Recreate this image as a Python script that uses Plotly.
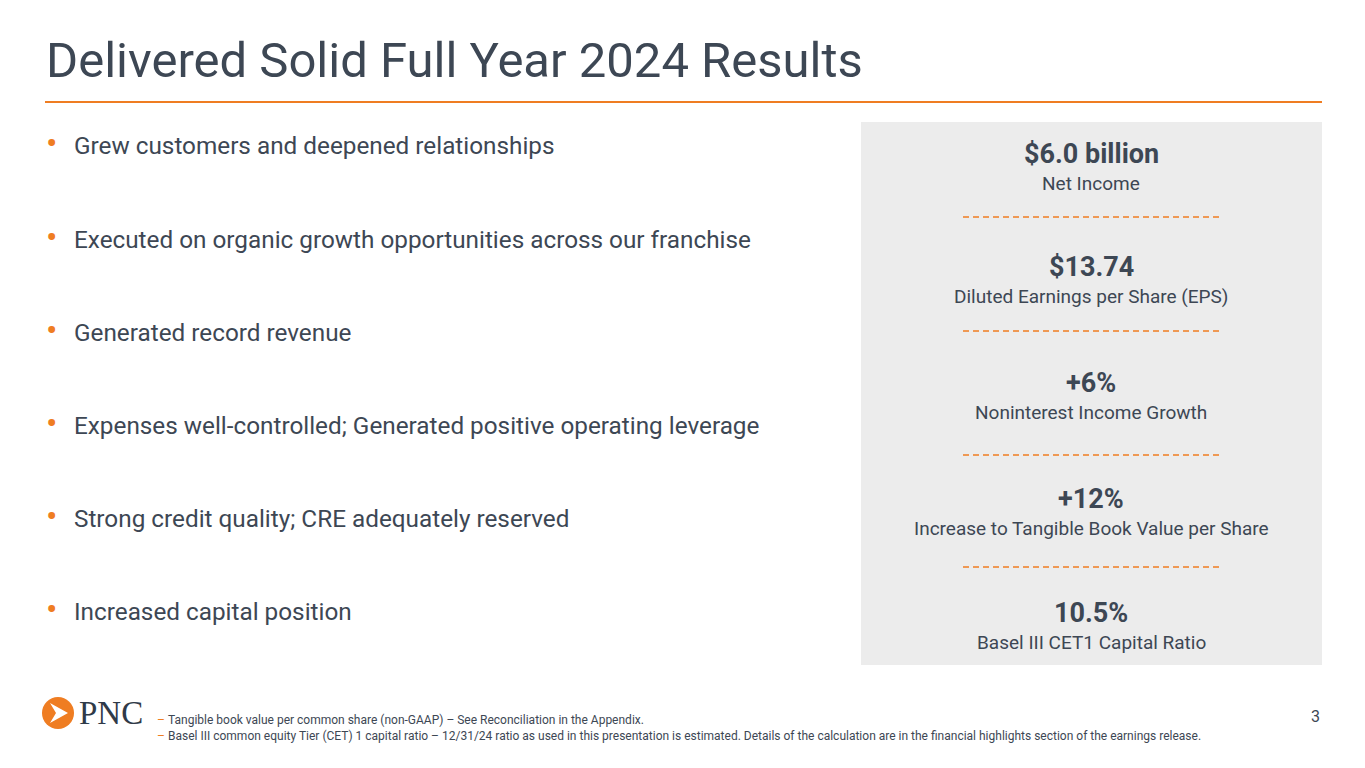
import plotly.graph_objects as go

title = "Delivered Solid Full Year 2024 Results"
bullets = ["Grew customers and deepened relationships",
           "Executed on organic growth opportunities across our franchise",
           "Generated record revenue",
           "Expenses well-controlled; Generated positive operating leverage",
           "Strong credit quality; CRE adequately reserved",
           "Increased capital position"]
bullet_y = [145, 239, 332, 425, 518, 611]
metric_values = ["$6.0 billion", "$13.74", "+6%", "+12%", "10.5%"]
metric_labels = ["Net Income", "Diluted Earnings per Share (EPS)", "Noninterest Income Growth",
                 "Increase to Tangible Book Value per Share", "Basel III CET1 Capital Ratio"]
metric_y = [154, 267, 383, 499, 613]
divider_y = [217, 331, 455, 567]
footnotes = ["Tangible book value per common share (non-GAAP) – See Reconciliation in the Appendix.",
             "Basel III common equity Tier (CET) 1 capital ratio – 12/31/24 ratio as used in this presentation is estimated. Details of the calculation are in the financial highlights section of the earnings release."]

ORANGE = "#ef7d22"
TXT = "#3d4754"
FONT = "Roboto"

fig = go.Figure()
fig.add_trace(go.Scatter(x=[0, 1365], y=[0, 768], mode="markers", marker=dict(opacity=0), hoverinfo="skip"))
ann = []
shapes = []
def A(**k):
    k.setdefault("showarrow", False)
    ann.append(k)
A(x=44, y=60, text=title, xanchor="left", yanchor="middle",
  font=dict(family=FONT, size=49, color=TXT))
shapes.append(dict(type="line", x0=45, x1=1322, y0=102, y1=102, line=dict(color=ORANGE, width=2)))
for t, y in zip(bullets, bullet_y):
    A(x=44, y=y - 2, text="•", xanchor="left", yanchor="middle", font=dict(family=FONT, size=34, color=ORANGE))
    A(x=72, y=y, text=t, xanchor="left", yanchor="middle", font=dict(family=FONT, size=24.3, color=TXT))
shapes.append(dict(type="rect", x0=861, x1=1322, y0=122, y1=665, fillcolor="#ececec", line=dict(width=0), layer="below"))
cx = 1091
for v, l, y in zip(metric_values, metric_labels, metric_y):
    A(x=cx, y=y, text=f"<b>{v}</b>", xanchor="center", yanchor="middle",
      font=dict(family=FONT, size=27, color=TXT))
    A(x=cx, y=y + 29, text=l, xanchor="center", yanchor="middle",
      font=dict(family=FONT, size=19, color=TXT))
for y in divider_y:
    shapes.append(dict(type="line", x0=963, x1=1219, y0=y, y1=y, line=dict(color=ORANGE, width=1.5, dash="6px,4px")))
for i, f in enumerate(footnotes):
    A(x=155, y=720 + i * 16, text="–", xanchor="left", yanchor="middle", font=dict(family=FONT, size=12, color=ORANGE))
    A(x=166, y=720 + i * 16, text=f, xanchor="left", yanchor="middle", font=dict(family=FONT, size=12, color=TXT))
A(x=1322, y=716, text="3", xanchor="right", yanchor="middle", font=dict(family=FONT, size=16, color=TXT))
# logo
shapes.append(dict(type="circle", x0=42, x1=74, y0=697, y1=729, fillcolor=ORANGE, line=dict(width=0)))
shapes.append(dict(type="path", path="M 50 703 L 68 713 L 50 723 L 56 713 Z", fillcolor="white", line=dict(width=0)))
A(x=77, y=713, text="PNC", xanchor="left", yanchor="middle",
  font=dict(family="Liberation Serif", size=33, color="#2f3a48"))

fig.update_layout(width=1365, height=768, margin=dict(l=0, r=0, t=0, b=0),
                  paper_bgcolor="white", plot_bgcolor="white", showlegend=False,
                  annotations=ann, shapes=shapes,
                  xaxis=dict(range=[0, 1365], visible=False, fixedrange=True),
                  yaxis=dict(range=[768, 0], visible=False, fixedrange=True))
fig.write_html("out.html", config={"displayModeBar": False},
               post_script="document.body.style.margin='0';document.body.style.overflow='hidden';")
